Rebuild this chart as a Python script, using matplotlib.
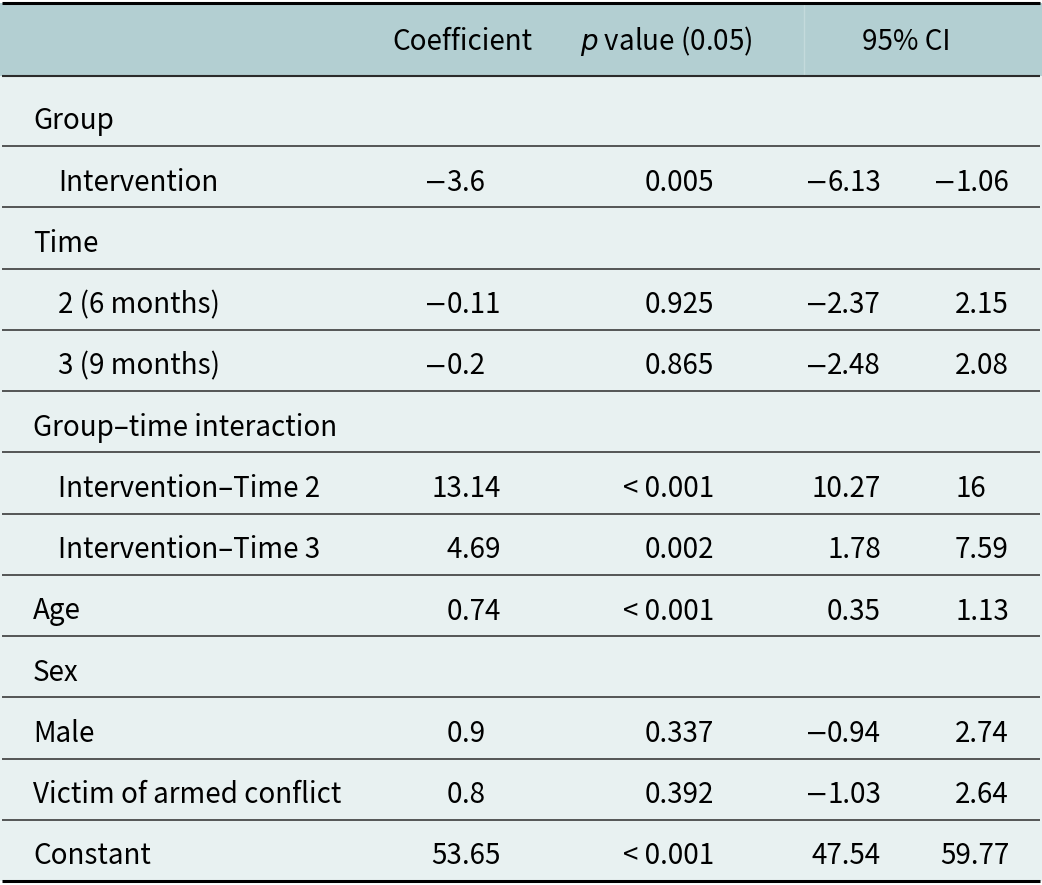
import matplotlib.pyplot as plt

plt.rcParams['font.family'] = ['Noto Sans CJK JP', 'DejaVu Sans']

# table contents
labels = ["Group", "Intervention", "Time", "2 (6 months)", "3 (9 months)",
          "Group\u2013time interaction", "Intervention\u2013Time 2",
          "Intervention\u2013Time 3", "Age", "Sex", "Male",
          "Victim of armed conflict", "Constant"]
indented = [False, True, False, True, True, False, True, True,
            False, False, False, False, False]
coef = ["", "\u22123.6", "", "\u22120.11", "\u22120.2", "", "13.14", "4.69",
        "0.74", "", "0.9", "0.8", "53.65"]
pval = ["", "0.005", "", "0.925", "0.865", "", "< 0.001", "0.002",
        "< 0.001", "", "0.337", "0.392", "< 0.001"]
ci_low = ["", "\u22126.13", "", "\u22122.37", "\u22122.48", "", "10.27", "1.78",
          "0.35", "", "\u22120.94", "\u22121.03", "47.54"]
ci_high = ["", "\u22121.06", "", "2.15", "2.08", "", "16", "7.59",
           "1.13", "", "2.74", "2.64", "59.77"]

W, H = 1042, 885
fig = plt.figure(figsize=(W / 100, H / 100), dpi=100)
ax = fig.add_axes([0, 0, 1, 1])
ax.set_xlim(0, W)
ax.set_ylim(H, 0)
ax.axis('off')
renderer = fig.canvas.get_renderer()

head_top, head_bot = 3, 76
first_bot = 146
row_h = (881 - first_bot) / (len(labels) - 1)
bottoms = [first_bot + i * row_h for i in range(len(labels))]

ax.axhspan(head_top, head_bot, color='#b3cfd2', lw=0)
ax.axhspan(head_bot, bottoms[-1], color='#e8f1f1', lw=0)
ax.vlines(804, head_top, head_bot, color='#c4dadc', lw=1)

fs = 20
hy = 50
ax.text(462, hy, "Coefficient", ha='center', va='baseline', fontsize=fs)
ax.text(666, hy, "$\\it{p}$ value (0.05)", ha='center', va='baseline', fontsize=fs)
ax.text(906, hy, "95% CI", ha='center', va='baseline', fontsize=fs)


def put(x, y, s, ha):
    # number text; a minus sign is drawn separately so it gets the wide dash
    if s == "":
        return
    neg = s.startswith("\u2212")
    body = s[1:] if neg else s
    t = ax.text(x, y, body, ha=ha, va='baseline', fontsize=fs)
    if neg:
        x0 = t.get_window_extent(renderer).x0
        ax.text(x0 + 1, y, "\u2212", ha='right', va='baseline', fontsize=fs,
                family='DejaVu Sans')


def dec_text(xd, y, s):
    # decimal-aligned number
    if "." in s:
        a, b = s.split(".")
        put(xd, y, a, 'right')
        ax.text(xd, y, "." + b, ha='left', va='baseline', fontsize=fs)
    else:
        put(xd, y, s, 'right')


for i, lab in enumerate(labels):
    y = bottoms[i] - 16.5
    ax.text(58 if indented[i] else 33, y, lab, ha='left', va='baseline', fontsize=fs)
    dec_text(462, y, coef[i])
    put(714, y, pval[i], 'right')
    put(881, y, ci_low[i], 'right')
    hi = ci_high[i]
    put(1009 if "." in hi else 986, y, hi, 'right')

ax.hlines(bottoms[:-1], 2, W - 2, color='#2b2b2b', lw=1.1)
ax.hlines(head_bot, 2, W - 2, color='#2b2b2b', lw=1.5)
ax.hlines([head_top, bottoms[-1]], 2, W - 2, color='black', lw=2.2)

fig.savefig('out.png', dpi=100)
